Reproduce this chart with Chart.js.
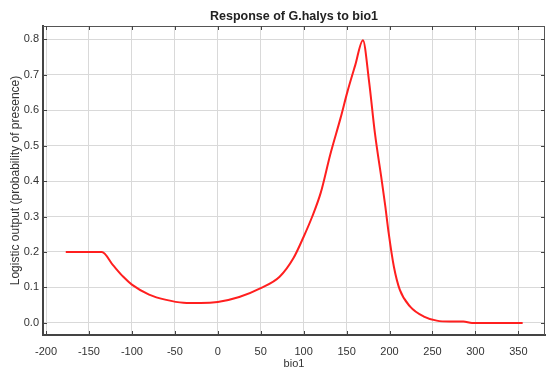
<!DOCTYPE html>
<html>
<head>
<meta charset="utf-8">
<script src="https://cdn.jsdelivr.net/npm/chart.js@4.4.1/dist/chart.umd.min.js"></script>
<style>
  html, body { margin: 0; padding: 0; background: #ffffff; }
  #wrap { width: 546px; height: 372px; position: relative; }
</style>
</head>
<body>
<div id="wrap"><canvas id="c" width="546" height="372"></canvas></div>
<script>
// ---- data ----
const bio1 = [-177, -135, -122, -110, -100, -80, -60, -40, -20, 0, 25, 50, 72, 88, 100, 110, 120, 131, 143, 151, 160, 169, 176, 183, 191, 195, 199, 205, 212, 224, 240, 255, 270, 286, 296, 355];
const response = [0.2, 0.2, 0.163, 0.13, 0.108, 0.08, 0.065, 0.057, 0.056, 0.059, 0.073, 0.098, 0.13, 0.182, 0.243, 0.30, 0.368, 0.475, 0.578, 0.652, 0.726, 0.797, 0.684, 0.534, 0.40, 0.33, 0.253, 0.159, 0.093, 0.046, 0.018, 0.0065, 0.004, 0.004, 0.0, 0.0];
const xTickValues = [-200, -150, -100, -50, 0, 50, 100, 150, 200, 250, 300, 350];
const yTickValues = [0.0, 0.1, 0.2, 0.3, 0.4, 0.5, 0.6, 0.7, 0.8];
const chartTitle = 'Response of G.halys to bio1';
const xTitle = 'bio1';
const yTitle = 'Logistic output (probability of presence)';

const FONT = 'Liberation Sans, Arial, sans-serif';
const points = bio1.map((x, i) => ({ x: x, y: response[i] }));

// frame + inward tick marks
const framePlugin = {
  id: 'frame',
  afterDraw(chart) {
    const { ctx, chartArea: a, scales } = chart;
    ctx.save();
    ctx.strokeStyle = '#555';
    ctx.lineWidth = 1;
    ctx.beginPath();
    ctx.moveTo(a.left, a.top + 0.5); ctx.lineTo(a.right, a.top + 0.5);
    ctx.moveTo(a.right - 0.5, a.top); ctx.lineTo(a.right - 0.5, a.bottom);
    ctx.stroke();
    ctx.strokeStyle = '#444';
    ctx.beginPath();
    xTickValues.forEach(v => {
      const px = Math.round(scales.x.getPixelForValue(v)) + 0.5;
      ctx.moveTo(px, a.bottom); ctx.lineTo(px, a.bottom - 4);
      ctx.moveTo(px, a.top); ctx.lineTo(px, a.top + 4);
    });
    yTickValues.forEach(v => {
      const py = Math.round(scales.y.getPixelForValue(v)) + 0.5;
      ctx.moveTo(a.left, py); ctx.lineTo(a.left + 4, py);
      ctx.moveTo(a.right, py); ctx.lineTo(a.right - 4, py);
    });
    ctx.stroke();
    ctx.restore();
  }
};

new Chart(document.getElementById('c'), {
  type: 'line',
  data: {
    datasets: [{
      data: points,
      borderColor: '#ff1f1f',
      borderWidth: 2,
      pointRadius: 0,
      cubicInterpolationMode: 'monotone',
      fill: false
    }]
  },
  options: {
    responsive: false,
    animation: false,
    layout: { padding: { right: 1, top: 0, bottom: 0, left: 0 } },
    plugins: {
      legend: { display: false },
      tooltip: { enabled: false },
      title: {
        display: true,
        text: chartTitle,
        fullSize: false,
        color: '#222',
        font: { family: FONT, size: 12.5, weight: 'bold' },
        padding: { top: 8.6, bottom: 2.4 }
      }
    },
    scales: {
      x: {
        type: 'linear',
        min: -203.5,
        max: 381,
        afterBuildTicks: s => { s.ticks = xTickValues.map(v => ({ value: v })); },
        afterFit: s => { s.height = 37; },
        ticks: {
          autoSkip: false, maxRotation: 0, minRotation: 0,
          color: '#333', font: { family: FONT, size: 11 }, padding: 10,
          callback: v => String(v)
        },
        grid: { color: '#d9d9d9', lineWidth: 1, drawTicks: false },
        border: { color: '#444', width: 2 },
        title: { display: true, text: xTitle, color: '#333', font: { family: FONT, size: 11 }, padding: { top: 0, bottom: 1 } }
      },
      y: {
        type: 'linear',
        min: -0.034,
        max: 0.837,
        afterBuildTicks: s => { s.ticks = yTickValues.map(v => ({ value: v })); },
        afterFit: s => { s.width = 43; },
        ticks: {
          autoSkip: false,
          color: '#333', font: { family: FONT, size: 11 }, padding: 4,
          callback: v => Number(v).toFixed(1)
        },
        grid: { color: '#d9d9d9', lineWidth: 1, drawTicks: false },
        border: { color: '#444', width: 2 },
        title: { display: true, text: yTitle, color: '#333', font: { family: FONT, size: 12 }, padding: { top: 8, bottom: 0 } }
      }
    }
  },
  plugins: [framePlugin]
});
</script>
</body>
</html>
